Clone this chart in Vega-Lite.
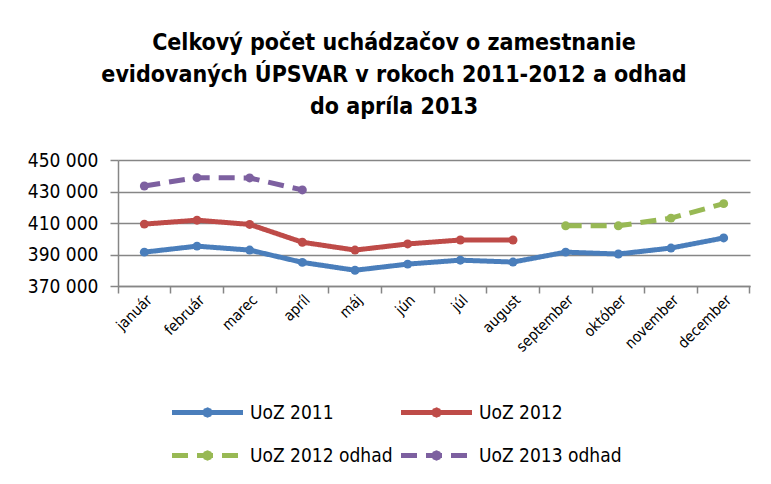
{
  "$schema": "https://vega.github.io/schema/vega-lite/v6.json",
  "width": 632,
  "height": 126,
  "autosize": "none",
  "padding": {"left": 118, "top": 160, "right": 21, "bottom": 198},
  "background": "white",
  "config": {
    "view": {"stroke": null},
    "font": "Liberation Sans Narrow, Arial Narrow, DejaVu Sans Condensed, sans-serif"
  },
  "title": {
    "text": ["Celkový počet uchádzačov o zamestnanie", "evidovaných ÚPSVAR v rokoch 2011-2012 a odhad", "do apríla 2013"],
    "fontSize": 23,
    "fontWeight": "bold",
    "color": "black",
    "anchor": "middle",
    "frame": "group",
    "dx": -40,
    "offset": 32,
    "lineHeight": 32
  },
  "data": {
    "values": [
      {"month": "január", "series": "UoZ 2011", "value": 391500},
      {"month": "február", "series": "UoZ 2011", "value": 395300},
      {"month": "marec", "series": "UoZ 2011", "value": 392800},
      {"month": "apríl", "series": "UoZ 2011", "value": 385000},
      {"month": "máj", "series": "UoZ 2011", "value": 380000},
      {"month": "jún", "series": "UoZ 2011", "value": 383900},
      {"month": "júl", "series": "UoZ 2011", "value": 386400},
      {"month": "august", "series": "UoZ 2011", "value": 385200},
      {"month": "september", "series": "UoZ 2011", "value": 391500},
      {"month": "október", "series": "UoZ 2011", "value": 390300},
      {"month": "november", "series": "UoZ 2011", "value": 394100},
      {"month": "december", "series": "UoZ 2011", "value": 400500},
      {"month": "január", "series": "UoZ 2012", "value": 409300},
      {"month": "február", "series": "UoZ 2012", "value": 411800},
      {"month": "marec", "series": "UoZ 2012", "value": 409100},
      {"month": "apríl", "series": "UoZ 2012", "value": 397800},
      {"month": "máj", "series": "UoZ 2012", "value": 392800},
      {"month": "jún", "series": "UoZ 2012", "value": 396700},
      {"month": "júl", "series": "UoZ 2012", "value": 399200},
      {"month": "august", "series": "UoZ 2012", "value": 399200},
      {"month": "september", "series": "UoZ 2012 odhad", "value": 408200},
      {"month": "október", "series": "UoZ 2012 odhad", "value": 408200},
      {"month": "november", "series": "UoZ 2012 odhad", "value": 413100},
      {"month": "december", "series": "UoZ 2012 odhad", "value": 422300},
      {"month": "január", "series": "UoZ 2013 odhad", "value": 433500},
      {"month": "február", "series": "UoZ 2013 odhad", "value": 438800},
      {"month": "marec", "series": "UoZ 2013 odhad", "value": 438600},
      {"month": "apríl", "series": "UoZ 2013 odhad", "value": 431000}
    ]
  },
  "layer": [
    {
      "mark": {"type": "line", "strokeWidth": 5, "point": {"filled": true, "size": 80}},
      "encoding": {
        "x": {
          "field": "month",
          "type": "nominal",
          "sort": ["január", "február", "marec", "apríl", "máj", "jún", "júl", "august", "september", "október", "november", "december"],
          "scale": {"type": "band", "paddingInner": 0, "paddingOuter": 0},
          "axis": {
            "orient": "bottom",
            "title": null,
            "labelAngle": -45,
            "labelFontSize": 15,
            "labelColor": "black",
            "labelPadding": 6,
            "ticks": false,
            "grid": false,
            "domainColor": "#868686",
            "domainWidth": 1.5
          }
        },
        "y": {
          "field": "value",
          "type": "quantitative",
          "scale": {"domain": [370000, 450000], "nice": false, "zero": false},
          "axis": {
            "title": null,
            "values": [370000, 390000, 410000, 430000, 450000],
            "labelExpr": "replace(format(datum.value, ','), ',', ' ')",
            "labelOverlap": false,
            "labelFontSize": 19,
            "labelColor": "black",
            "labelPadding": 12,
            "grid": true,
            "gridColor": "#868686",
            "gridWidth": 1.5,
            "domainColor": "#868686",
            "domainWidth": 1.5,
            "tickColor": "#868686",
            "tickWidth": 1.5,
            "tickSize": 8
          }
        },
        "color": {
          "field": "series",
          "type": "nominal",
          "scale": {
            "domain": ["UoZ 2011", "UoZ 2012", "UoZ 2012 odhad", "UoZ 2013 odhad"],
            "range": ["#4A7EBB", "#BE4B48", "#98B954", "#7D60A0"]
          },
          "legend": {
            "title": null,
            "orient": "none",
            "legendX": 77,
            "legendY": 240,
            "direction": "horizontal",
            "columns": 2,
            "padding": 0,
            "columnPadding": -2,
            "rowPadding": 18,
            "symbolType": "M-3.55,0L3.55,0M0.25,0L0.18,0.18L0,0.25L-0.18,0.18L-0.25,0L-0.18,-0.18L0,-0.25L0.18,-0.18Z",
            "symbolSize": 400,
            "symbolStrokeWidth": 5,
            "labelOffset": 30,
            "labelFontSize": 19,
            "labelColor": "black",
            "encode": {
              "symbols": {"update": {"fill": {"scale": "color", "field": "value"}}}
            }
          }
        },
        "strokeDash": {
          "field": "series",
          "type": "nominal",
          "scale": {
            "domain": ["UoZ 2011", "UoZ 2012", "UoZ 2012 odhad", "UoZ 2013 odhad"],
            "range": [[1, 0], [1, 0], [16, 9], [16, 9]]
          },
          "legend": null
        }
      }
    },
    {
      "mark": {"type": "point", "opacity": 0},
      "encoding": {
        "x": {
          "field": "month",
          "type": "nominal",
          "sort": ["január", "február", "marec", "apríl", "máj", "jún", "júl", "august", "september", "október", "november", "december"],
          "axis": {
            "orient": "bottom",
            "title": null,
            "labels": false,
            "domain": false,
            "grid": false,
            "ticks": true,
            "bandPosition": 0,
            "tickSize": 7,
            "tickColor": "#868686",
            "tickWidth": 1.5
          }
        },
        "y": {
          "field": "value",
          "type": "quantitative",
          "scale": {"domain": [370000, 450000], "nice": false, "zero": false},
          "axis": {
            "title": null,
            "values": [370000, 390000, 410000, 430000, 450000],
            "labelExpr": "replace(format(datum.value, ','), ',', ' ')",
            "labelOverlap": false,
            "labelFontSize": 19,
            "labelColor": "black",
            "labelPadding": 12,
            "grid": true,
            "gridColor": "#868686",
            "gridWidth": 1.5,
            "domainColor": "#868686",
            "domainWidth": 1.5,
            "tickColor": "#868686",
            "tickWidth": 1.5,
            "tickSize": 8
          }
        }
      }
    },
    {
      "mark": {"type": "point", "opacity": 0},
      "encoding": {
        "x": {
          "field": "month",
          "type": "nominal",
          "sort": ["január", "február", "marec", "apríl", "máj", "jún", "júl", "august", "september", "október", "november", "december"],
          "axis": {
            "orient": "bottom",
            "title": null,
            "labels": false,
            "domain": false,
            "grid": false,
            "ticks": true,
            "values": ["december"],
            "bandPosition": 1,
            "tickSize": 7,
            "tickColor": "#868686",
            "tickWidth": 1.5
          }
        },
        "y": {
          "field": "value",
          "type": "quantitative",
          "scale": {"domain": [370000, 450000], "nice": false, "zero": false},
          "axis": {
            "title": null,
            "values": [370000, 390000, 410000, 430000, 450000],
            "labelExpr": "replace(format(datum.value, ','), ',', ' ')",
            "labelOverlap": false,
            "labelFontSize": 19,
            "labelColor": "black",
            "labelPadding": 12,
            "grid": true,
            "gridColor": "#868686",
            "gridWidth": 1.5,
            "domainColor": "#868686",
            "domainWidth": 1.5,
            "tickColor": "#868686",
            "tickWidth": 1.5,
            "tickSize": 8
          }
        }
      }
    }
  ],
  "resolve": {"axis": {"x": "independent"}}
}
